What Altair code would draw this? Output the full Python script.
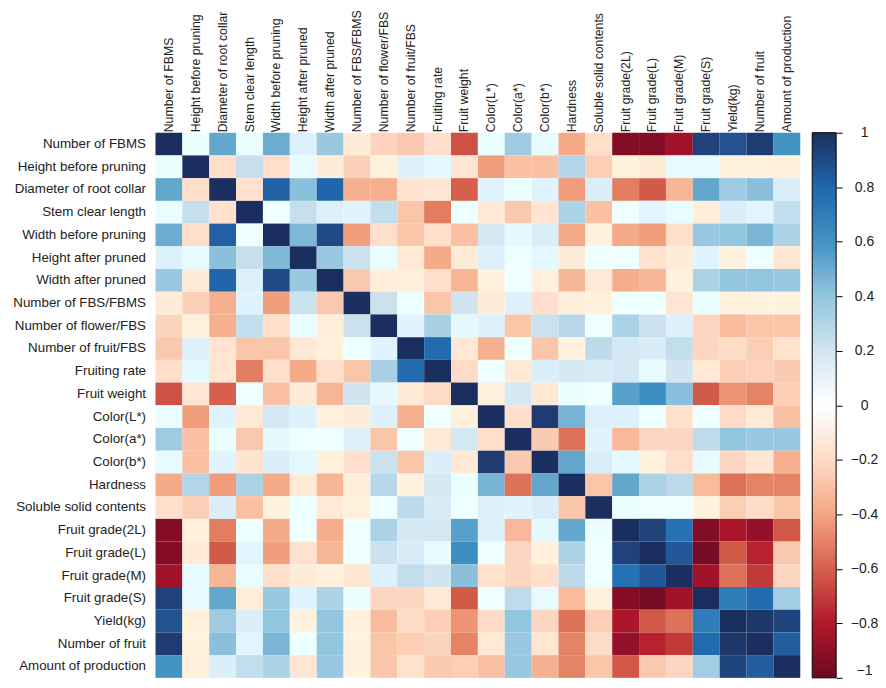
import altair as alt
import pandas as pd

labels = ["Number of FBMS", "Height before pruning", "Diameter of root collar", "Stem clear length",
          "Width before pruning", "Height after pruned", "Width after pruned", "Number of FBS/FBMS",
          "Number of flower/FBS", "Number of fruit/FBS", "Fruiting rate", "Fruit weight",
          "Color(L*)", "Color(a*)", "Color(b*)", "Hardness", "Soluble solid contents",
          "Fruit grade(2L)", "Fruit grade(L)", "Fruit grade(M)", "Fruit grade(S)",
          "Yield(kg)", "Number of fruit", "Amount of production"]

# upper triangle of the correlation matrix, one list per row, starting right of the diagonal
r00 = [.02, .52, .03, .5, .12, .38, -.08, -.23, -.27, -.17, -.65, .03, .36, .05, -.38, -.18, -.93, -.93, -.85, .93, .87, .95, .6]
r01 = [-.17, .24, -.17, .05, -.08, -.24, -.05, .12, .07, -.12, -.42, -.3, -.3, .3, -.25, -.05, -.09, .05, .05, -.05, -.04, -.06]
r02 = [-.16, .82, .42, .8, -.36, -.36, -.13, -.12, -.6, .1, .02, .1, -.43, .14, -.52, -.62, -.34, .52, .36, .42, .13]
r03 = [0, .24, .12, .1, .25, -.28, -.52, 0, -.1, -.27, -.13, .32, -.3, 0, .09, .04, -.07, .14, .09, .25]
r04 = [.45, .9, -.42, -.17, -.28, -.17, -.3, .17, .06, .14, -.38, -.03, -.38, -.42, -.18, .38, .4, .46, .32]
r05 = [.38, .22, .04, -.1, -.38, -.08, .12, 0, .07, -.08, 0, 0, -.15, -.08, .1, -.03, 0, -.12]
r06 = [-.27, -.07, -.06, -.17, -.34, -.05, 0, -.05, -.34, -.1, -.37, -.34, -.05, .32, .4, .4, .38]
r07 = [.22, 0, -.28, .2, -.08, .12, -.17, -.07, -.05, 0, 0, -.12, .02, -.05, -.03, -.04]
r08 = [.1, .33, .06, .12, -.28, .22, .28, 0, .32, .22, .12, -.22, -.32, -.28, -.28]
r09 = [.78, -.1, -.36, 0, -.28, -.03, .27, .17, .15, .25, -.22, -.2, -.25, -.15]
r10 = [-.2, 0, -.1, .13, .17, .15, .18, .05, .2, -.1, -.25, -.23, -.26]
r11 = [-.05, .17, -.1, .02, 0, .55, .62, .42, -.62, -.45, -.5, -.25]
r12 = [-.17, .95, .47, .12, .12, 0, -.16, 0, -.2, -.1, -.3]
r13 = [-.26, -.55, .1, -.33, -.22, -.22, .26, .4, .38, .38]
r14 = [.52, .14, .07, -.05, -.17, .05, -.22, -.12, -.36]
r15 = [-.28, .52, .32, .27, -.32, -.55, -.5, -.5]
r16 = [.02, 0, 0, -.03, -.25, -.2, -.28]
r17 = [.93, .75, -.93, -.82, -.88, -.63]
r18 = [.85, -.97, -.62, -.78, -.27]
r19 = [-.85, -.55, -.72, -.22]
r20 = [.7, .78, .35]
r21 = [.97, .92]
r22 = [.83]
upper = [r00, r01, r02, r03, r04, r05, r06, r07, r08, r09, r10, r11, r12, r13, r14, r15, r16, r17, r18, r19, r20, r21, r22, []]

palette = ["#6b0a22", "#b2182b", "#d6604d", "#f4a582", "#fddbc7", "#ffffff",
           "#d1e5f0", "#92c5de", "#4393c3", "#2166ac", "#1a2f5f"]
stops = [-1, -.8, -.6, -.4, -.2, 0, .2, .4, .6, .8, 1]
tick_values = [-1, -.8, -.6, -.4, -.2, 0, .2, .4, .6, .8, 1]

rows = []
for i, row in enumerate(upper):
    rows.append({"a": labels[i], "b": labels[i], "v": 1.0})
    for k, val in enumerate(row):
        j = i + 1 + k
        rows.append({"a": labels[i], "b": labels[j], "v": val})
        rows.append({"a": labels[j], "b": labels[i], "v": val})
df = pd.DataFrame(rows)

FONT = "Liberation Sans"

heat = alt.Chart(df).mark_rect().encode(
    x=alt.X("b:N", sort=labels, title=None, scale=alt.Scale(paddingInner=0, paddingOuter=0),
            axis=alt.Axis(orient="top", labelAngle=270, labelAlign="left", labelBaseline="middle",
                          ticks=False, domain=False, labelPadding=1, labelFont=FONT, labelFontSize=12.3,
                          labelColor="#222222", labelLimit=200)),
    y=alt.Y("a:N", sort=labels, title=None, scale=alt.Scale(paddingInner=0, paddingOuter=0),
            axis=alt.Axis(ticks=False, domain=False, labelPadding=10, labelFont=FONT, labelFontSize=13.4,
                          labelColor="#222222", labelLimit=200)),
    color=alt.Color("v:Q", legend=None, scale=alt.Scale(domain=stops, range=palette)),
).properties(width=647, height=547)

gradient = alt.Gradient(
    gradient="linear", x1=0, x2=0, y1=1, y2=0,
    stops=[alt.GradientStop(color=c, offset=(s + 1) / 2) for c, s in zip(palette, stops)],
)
bar = alt.Chart(pd.DataFrame({"lo": [-1], "hi": [1]})).mark_rect(
    fill=gradient, stroke="#000000", strokeWidth=1
).encode(
    x=alt.value(0), x2=alt.value(24),
    y=alt.Y("lo:Q", title=None, scale=alt.Scale(domain=[-1, 1], nice=False),
            axis=alt.Axis(orient="right", values=tick_values, grid=False, domain=False, tickSize=6, tickColor="#000000",
                          labelFont=FONT, labelFontSize=14, labelColor="#222222", labelAlign="center",
                          labelBaseline=alt.expr("datum.value == -1 ? 'bottom' : 'middle'"),
                          labelPadding=22, labelFlush=False, labelOverlap=False, format="~g")),
    y2="hi:Q",
).properties(width=24, height=547)

chart = alt.hconcat(heat, bar, spacing=11).configure_view(stroke=None).properties(
    padding={"left": 4, "top": 0, "right": 0, "bottom": 0}
)
chart.save("out.html", embed_options={"renderer": "svg", "actions": False})
